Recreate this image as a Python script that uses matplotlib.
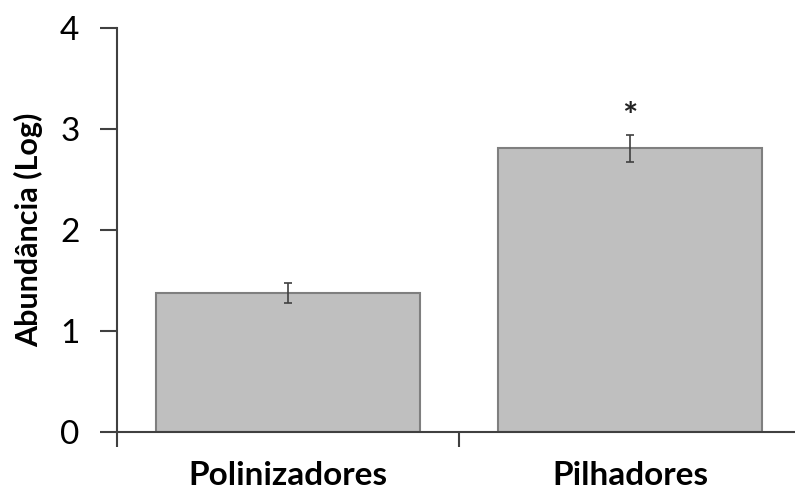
import numpy as np
import matplotlib
matplotlib.use("Agg")
import matplotlib.pyplot as plt

categories = ["Polinizadores", "Pilhadores"]
abundance = [1.38, 2.81]
errors = [0.10, 0.135]
marks = ["", "*"]
y_ticks = [0, 1, 2, 3, 4]

plt.rcParams["font.family"] = ["Lato", "DejaVu Sans"]

fig = plt.figure(figsize=(7.95, 4.92), dpi=100)
ax = fig.add_axes([117 / 795, 60 / 492, 684 / 795, 404 / 492])

x = np.arange(len(categories))
ax.bar(x, abundance, width=0.77, color="#bfbfbf", edgecolor="#7f7f7f", linewidth=1.5, zorder=2)
ax.errorbar(x, abundance, yerr=errors, fmt="none", ecolor="#404040", elinewidth=1.2,
            capsize=3, capthick=1.2, zorder=3)
for xi, val, err, m in zip(x, abundance, errors, marks):
    if m:
        ax.text(xi, val + err + 0.17, m, ha="center", va="center", fontsize=26,
                fontweight="bold", color="#222222")

ax.set_xlim(-0.5, len(categories) - 0.5)
ax.set_ylim(0, 4)
ax.set_yticks(y_ticks)
ax.set_xticks(np.arange(len(categories) + 1) - 0.5)
ax.set_xticklabels([])
ax.set_xticks(x, minor=True)
ax.set_xticklabels(categories, minor=True, fontsize=24, fontweight="bold")
ax.tick_params(axis="x", which="minor", length=0, pad=21)
ax.tick_params(axis="x", which="major", length=11, width=1.5, color="#404040", direction="out")
ax.tick_params(axis="y", length=12, width=1.5, color="#404040", labelsize=24, pad=15)
ax.set_ylabel("Abundância (Log)", fontsize=22, fontweight="bold", labelpad=12)

for side in ["top", "right"]:
    ax.spines[side].set_visible(False)
for side in ["left", "bottom"]:
    ax.spines[side].set_color("#404040")
    ax.spines[side].set_linewidth(1.5)

fig.savefig("out.png", dpi=100)
